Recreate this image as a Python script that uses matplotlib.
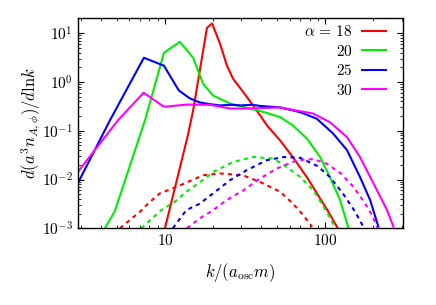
import numpy as np
import matplotlib
matplotlib.use("Agg")
import matplotlib.pyplot as plt
import matplotlib.ticker as mticker

plt.rcParams['mathtext.fontset'] = 'cm'
plt.rcParams['font.family'] = 'serif'
plt.rcParams['font.serif'] = ['cmr10', 'DejaVu Serif']
plt.rcParams['axes.unicode_minus'] = False

# --- solid lines: total spectrum ---
alphas = ["18", "20", "25", "30"]
colors = ["#ff0000", "#00ee00", "#0000ff", "#ff00ff"]

k18 = [10.0, 13.9, 15.0, 16.5, 18.3, 19.7, 22.1, 24.4, 26.6, 30.7, 34.0, 39.3, 43.4,
       52.4, 63.0, 77.0, 89.0, 103.0, 120.0]
n18 = [0.001, 0.080, 0.26, 1.70, 12.8, 15.8, 6.0, 2.15, 1.17, 0.63, 0.40, 0.205, 0.128,
       0.063, 0.0285, 0.0111, 0.0052, 0.0024, 0.001]

k20 = [4.22, 4.87, 7.5, 9.86, 12.4, 15.0, 17.3, 20.0, 25.5, 32.5, 41.0, 52.4, 63.0,
       77.0, 93.0, 107.0, 124.0, 140.0]
n20 = [0.001, 0.00226, 0.162, 3.96, 6.64, 3.13, 0.92, 0.525, 0.36, 0.294, 0.244, 0.19,
       0.128, 0.069, 0.029, 0.0113, 0.0038, 0.001]

k25 = [2.86, 4.53, 7.39, 9.86, 12.2, 14.3, 16.5, 19.1, 22.1, 26.0, 30.0, 35.0, 40.0,
       52.4, 69.8, 88.7, 112.0, 137.0, 165.0, 191.0, 215.0]
n25 = [0.0084, 0.162, 3.13, 2.15, 0.67, 0.46, 0.38, 0.35, 0.33, 0.34, 0.33, 0.34, 0.32,
       0.30, 0.24, 0.176, 0.088, 0.040, 0.0113, 0.0038, 0.00108]

k30 = [2.86, 5.08, 7.36, 9.86, 13.9, 19.1, 25.5, 34.0, 52.0, 84.0, 107.0, 137.0, 165.0,
       200.0, 243.0, 267.0]
n30 = [0.0143, 0.162, 0.60, 0.31, 0.344, 0.34, 0.285, 0.285, 0.30, 0.225, 0.15, 0.074,
       0.029, 0.0084, 0.0024, 0.00108]

# --- dashed lines: second component ---
kd18 = [5.23, 6.98, 7.83, 9.3, 10.4, 11.9, 13.9, 17.3, 22.1, 30.7, 39.3, 52.4, 63.0,
        72.9, 83.0]
nd18 = [0.001, 0.00218, 0.0032, 0.0052, 0.0060, 0.0071, 0.0089, 0.0122, 0.0133, 0.0122,
        0.0089, 0.0056, 0.0032, 0.00187, 0.00108]

kd20 = [7.11, 9.5, 11.5, 13.6, 17.8, 20.0, 26.7, 35.6, 47.5, 57.7, 69.8, 84.5, 95.3,
        105.0, 113.0]
nd20 = [0.001, 0.00236, 0.00349, 0.0056, 0.0105, 0.0143, 0.0229, 0.0289, 0.0268, 0.0181,
        0.0113, 0.0060, 0.0032, 0.00187, 0.00117]

kd25 = [11.2, 13.6, 16.5, 20.0, 25.5, 32.4, 43.1, 54.9, 69.8, 90.0, 107.0, 129.0, 154.0,
        173.0]
nd25 = [0.001, 0.00236, 0.0032, 0.0052, 0.0097, 0.0155, 0.0248, 0.0289, 0.0279, 0.0187,
        0.0113, 0.0052, 0.00218, 0.00108]

kd30 = [13.7, 16.5, 20.0, 24.3, 30.9, 39.3, 49.9, 66.6, 84.5, 102.0, 126.0, 150.0, 178.0,
        196.0, 213.0]
nd30 = [0.001, 0.0016, 0.00236, 0.0038, 0.0060, 0.0105, 0.0168, 0.0248, 0.0262, 0.0212,
        0.0132, 0.0071, 0.0032, 0.00187, 0.001]

solid = [(k18, n18), (k20, n20), (k25, n25), (k30, n30)]
dashed = [(kd18, nd18), (kd20, nd20), (kd25, nd25), (kd30, nd30)]

fig = plt.figure(figsize=(4.36, 3.05), dpi=100)
ax = fig.add_axes([0.178, 0.2515, 0.7456, 0.688])

lines = []
for (k, n), (kd, nd), c in zip(solid, dashed, colors):
    ln, = ax.plot(k, n, color=c, lw=1.5)
    ax.plot(kd, nd, color=c, lw=1.5, ls=(0, (2, 2)))
    lines.append(ln)

ax.set_xscale('log')
ax.set_yscale('log')
ax.set_xlim(2.85, 305)
ax.set_ylim(1e-3, 20)

ax.xaxis.set_major_locator(mticker.FixedLocator([10, 100]))
ax.xaxis.set_major_formatter(mticker.FixedFormatter(['$10$', '$100$']))
ax.xaxis.set_minor_locator(mticker.LogLocator(base=10, subs=np.arange(2, 10), numticks=20))
ax.xaxis.set_minor_formatter(mticker.NullFormatter())

yt = [1e-3, 1e-2, 1e-1, 1e0, 1e1]
ax.yaxis.set_major_locator(mticker.FixedLocator(yt))
ax.yaxis.set_major_formatter(mticker.FixedFormatter(
    ['$10^{-3}$', '$10^{-2}$', '$10^{-1}$', '$10^{0}$', '$10^{1}$']))
ax.yaxis.set_minor_locator(mticker.LogLocator(base=10, subs=np.arange(2, 10), numticks=20))
ax.yaxis.set_minor_formatter(mticker.NullFormatter())

ax.tick_params(which='both', direction='in', top=True, right=True, labelsize=11)
ax.tick_params(which='major', length=4, width=0.8)
ax.tick_params(which='minor', length=2, width=0.6)
for s in ax.spines.values():
    s.set_linewidth(1.0)

ax.set_xlabel(r'$k/(a_{\rm osc}m)$', fontsize=12, labelpad=9)
ax.set_ylabel(r'$d(a^3n_{A,\phi})/d\mathrm{ln}k$', fontsize=12, labelpad=-1)

labels = [r'$\alpha\,=\,' + alphas[0] + '$'] + ['$' + a + '$' for a in alphas[1:]]
ax.legend(lines, labels, frameon=False, markerfirst=False, fontsize=11,
          loc='upper right', bbox_to_anchor=(386 / 436, 1 - 24 / 305),
          bbox_transform=fig.transFigure, borderpad=0, borderaxespad=0,
          handlelength=1.6, handletextpad=0.6, labelspacing=0.3)

fig.savefig('out.png', dpi=100)
